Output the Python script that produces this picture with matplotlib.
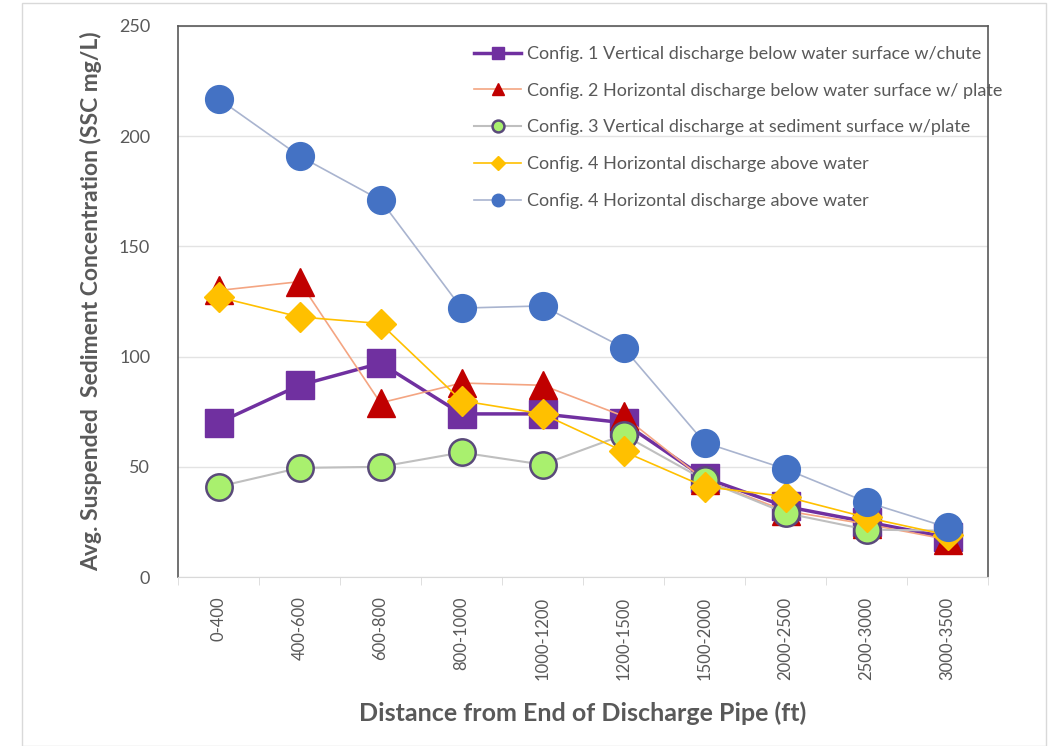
import numpy as np
import matplotlib
matplotlib.use('Agg')
import matplotlib.pyplot as plt
from matplotlib.patches import Rectangle

plt.rcParams['font.family'] = ['Lato', 'DejaVu Sans']

# distance bins (ft)
bins = ['0-400', '400-600', '600-800', '800-1000', '1000-1200',
        '1200-1500', '1500-2000', '2000-2500', '2500-3000', '3000-3500']

# avg SSC (mg/L)
conf1 = [70, 87, 97, 74, 74, 70, 45, 32, 25, 18]
conf2 = [130, 134, 79, 88, 87, 73, 44, 30, 24, 17]
conf3 = [41, 49.5, 50, 56.5, 51, 64.5, 44, 29, 21.5, 21]
conf4 = [127, 118, 115, 80, 74, 57, 41, 36.5, 27, 19]
conf4b = [217, 191, 171, 122, 123, 104, 61, 49, 34, 22.5]

labels = ['Config. 1 Vertical discharge below water surface w/chute',
          'Config. 2 Horizontal discharge below water surface w/ plate',
          'Config. 3 Vertical discharge at sediment surface w/plate',
          'Config. 4 Horizontal discharge above water',
          'Config. 4 Horizontal discharge above water']

fig = plt.figure(figsize=(10.56, 7.46), dpi=100)
fig.patches.append(Rectangle((22/1056, 0.0), (1046-22)/1056, 1-3/746,
                             transform=fig.transFigure, fill=False,
                             edgecolor='#d9d9d9', linewidth=1.0))
ax = fig.add_axes([178/1056, 1-577/746, (988-178)/1056, (577-26)/746])

x = np.arange(len(bins))

ax.plot(x, conf1, color='#7030a0', lw=2.5, marker='s', ms=20,
        mfc='#7030a0', mec='#7030a0', label=labels[0], zorder=3)
ax.plot(x, conf2, color='#f4a582', lw=1.2, marker='^', ms=20,
        mfc='#c00000', mec='#c00000', label=labels[1], zorder=4)
ax.plot(x, conf3, color='#bfbfbf', lw=1.5, marker='o', ms=19,
        mfc='#a9f06e', mec='#5a4a7a', mew=1.8, label=labels[2], zorder=5)
ax.plot(x, conf4, color='#ffc000', lw=1.2, marker='D', ms=15,
        mfc='#ffc000', mec='#ffc000', label=labels[3], zorder=6)
ax.plot(x, conf4b, color='#a9b4cf', lw=1.2, marker='o', ms=20,
        mfc='#4472c4', mec='#4472c4', label=labels[4], zorder=7)

ax.set_xlim(-0.5, len(bins) - 0.5)
ax.set_ylim(0, 250)
ax.set_yticks([0, 50, 100, 150, 200, 250])
ax.yaxis.grid(True, color='#e3e3e3', lw=1.0)
ax.set_axisbelow(True)

ax.set_xticks(x)
ax.set_xticklabels(bins, rotation=90, fontsize=12, color='#595959')
ax.set_xticks(np.arange(len(bins) + 1) - 0.5, minor=True)
ax.tick_params(axis='x', which='major', length=0, pad=14)
ax.tick_params(axis='x', which='minor', length=6, color='#d9d9d9', direction='out')
ax.tick_params(axis='y', length=0, labelsize=13, labelcolor='#595959', pad=20)

for s in ['left', 'top', 'right']:
    ax.spines[s].set_color('#595959')
    ax.spines[s].set_linewidth(1.2)
ax.spines['bottom'].set_color('#d9d9d9')

ax.set_xlabel('Distance from End of Discharge Pipe (ft)', fontsize=18,
              fontweight='bold', color='#595959', labelpad=16)
ax.set_ylabel('Avg. Suspended  Sediment Concentration (SSC mg/L)', fontsize=16.5,
              fontweight='bold', color='#595959', labelpad=12)

leg = ax.legend(loc='upper left', bbox_to_anchor=(0.357, 0.977), frameon=False,
                fontsize=13, labelcolor='#595959', markerscale=0.45,
                handlelength=2.6, handletextpad=0.3, labelspacing=1.15,
                borderaxespad=0)

fig.savefig('out.png', dpi=100)
